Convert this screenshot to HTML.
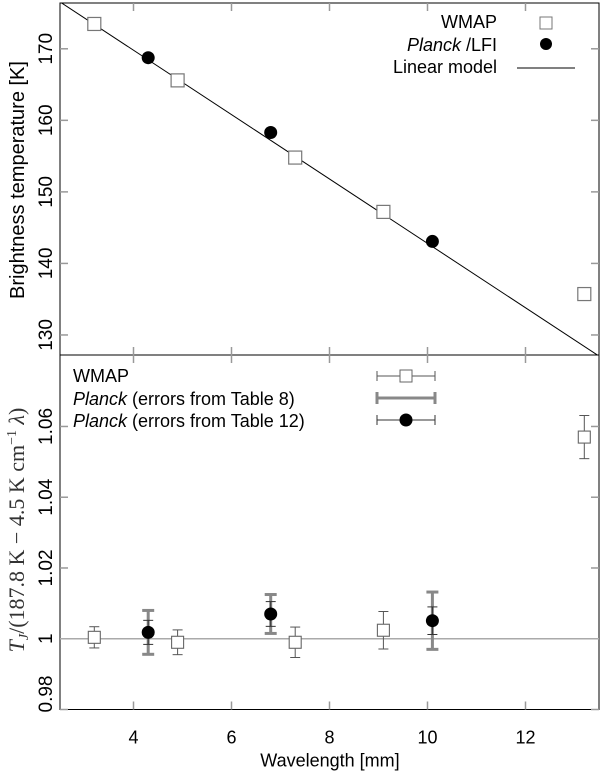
<!DOCTYPE html>
<html><head><meta charset="utf-8"><style>
html,body{margin:0;padding:0;background:#fff;}
svg{display:block;font-family:"Liberation Sans",sans-serif;}
</style></head><body>
<svg id="chart" width="600" height="775" viewBox="0 0 600 775"></svg>
<script>
const wmapLambda=[3.2,4.9,7.3,9.1,13.2];
const wmapRatio=[1.0004,0.999,0.999,1.0024,1.057];
const wmapErr=[0.003,0.0035,0.0043,0.0053,0.0061];
const planckLambda=[4.3,6.8,10.1];
const planckRatio=[1.0018,1.007,1.0051];
const planckErr8=[0.0062,0.0055,0.0081];
const planckErr12=[0.0034,0.0035,0.0039];
const xTicks=[4,6,8,10,12];
const topYTicks=[130,140,150,160,170];
const botYTicks=[0.98,1,1.02,1.04,1.06];
const botYLabels=["0.98","1","1.02","1.04","1.06"];
const modelA=187.8, modelB=4.5;

const NS="http://www.w3.org/2000/svg";
const svg=document.getElementById('chart');
const L=60,R=599,T1=3,B1=355,T2=355,B2=709.5;
const x=v=>L+(v-2.5)/(13.5-2.5)*(R-L);
const yT=v=>T1+(176.4-v)/(176.4-127.2)*(B1-T1);
const yB=v=>T2+(1.0802-v)/(1.0802-0.98)*(B2-T2);
const model=l=>modelA-modelB*l;
function mk(tag,attrs,name,parent){const e=document.createElementNS(NS,tag);for(const k in attrs)e.setAttribute(k,attrs[k]);


(parent||svg).appendChild(e);return e;}
function txt(s,attrs,name){const e=mk('text',attrs,name);e.textContent=s;return e;}

mk('rect',{x:L,y:T1,width:R-L,height:B1-T1,fill:'none',stroke:'#000','stroke-width':1},'top-panel-frame');
mk('rect',{x:L,y:T2,width:R-L,height:B2-T2,fill:'none',stroke:'#000','stroke-width':1},'bottom-panel-frame');
xTicks.forEach(t=>{
  [[T1,T1+8],[B1-8,B1],[T2,T2+8],[B2-8,B2]].forEach(p=>mk('line',{x1:x(t),x2:x(t),y1:p[0],y2:p[1],stroke:'#999','stroke-width':1.5},'x-tick'));
  txt(String(t),{x:x(t),y:B2+34,'font-size':18,'text-anchor':'middle'},'x-tick-label');
});
txt('Wavelength [mm]',{x:330,y:B2+57,'font-size':18,'text-anchor':'middle'},'x-axis-title');
topYTicks.forEach(t=>{
  mk('line',{x1:L,x2:L+8,y1:yT(t),y2:yT(t),stroke:'#999','stroke-width':1.5},'y-tick');
  mk('line',{x1:R-8,x2:R,y1:yT(t),y2:yT(t),stroke:'#999','stroke-width':1.5},'y-tick');
  txt(String(t),{x:0,y:0,'font-size':19,'text-anchor':'middle',transform:`translate(52,${yT(t)}) rotate(-90)`},'y-tick-label');
});
txt('Brightness temperature [K]',{x:0,y:0,'font-size':20,'text-anchor':'middle',transform:'translate(24,180) rotate(-90)'},'top-y-axis-title');
botYTicks.forEach((t,i)=>{
  mk('line',{x1:L,x2:L+8,y1:yB(t),y2:yB(t),stroke:'#999','stroke-width':1.5},'y-tick');
  mk('line',{x1:R-8,x2:R,y1:yB(t),y2:yB(t),stroke:'#999','stroke-width':1.5},'y-tick');
  txt(botYLabels[i],{x:0,y:0,'font-size':19,'text-anchor':'middle',transform:`translate(52,${Math.min(yB(t),694)}) rotate(-90)`},'y-tick-label');
});
const yt=txt('',{x:0,y:0,'font-size':22,'text-anchor':'middle','font-family':'Liberation Serif, serif',fill:'#333',transform:'translate(24,530) rotate(-90)'},'bottom-y-axis-title');
yt.innerHTML='<tspan font-style="italic">T</tspan><tspan font-size="14" font-style="italic" dy="4">J</tspan><tspan dy="-4">/(187.8 K − 4.5 K cm</tspan><tspan font-size="14" dy="-8">−1</tspan><tspan dy="8"> </tspan><tspan font-style="italic">λ</tspan><tspan>)</tspan>';

const clip=mk('clipPath',{id:'c1'},'clip');mk('rect',{x:L,y:T1,width:R-L,height:B1-T1},'clip-rect',clip);
mk('line',{x1:x(2.5),y1:yT(model(2.5)),x2:x(13.5),y2:yT(model(13.5)),stroke:'#000','stroke-width':1,'clip-path':'url(#c1)'},'linear-model-line');
wmapLambda.forEach((l,i)=>{const v=model(l)*wmapRatio[i];
  mk('rect',{x:x(l)-6.5,y:yT(v)-6.5,width:13,height:13,fill:'#fff',stroke:'#777','stroke-width':1.2},'wmap-point');});
planckLambda.forEach((l,i)=>{const v=model(l)*planckRatio[i];
  mk('circle',{cx:x(l),cy:yT(v),r:6.5,fill:'#000'},'planck-point');});
txt('WMAP',{x:497,y:28,'font-size':18,'text-anchor':'end'},'legend-wmap-label');
const pl=txt('',{x:497,y:51,'font-size':18,'text-anchor':'end'},'legend-planck-label');pl.innerHTML='<tspan font-style="italic">Planck</tspan> /LFI';
txt('Linear model',{x:497,y:73,'font-size':18,'text-anchor':'end'},'legend-model-label');
mk('rect',{x:540,y:17,width:12,height:12,fill:'#fff',stroke:'#777'},'legend-wmap-marker');
mk('circle',{cx:546,cy:44,r:6,fill:'#000'},'legend-planck-marker');
mk('line',{x1:517,x2:575,y1:68,y2:68,stroke:'#000'},'legend-model-marker');

mk('line',{x1:L,x2:R,y1:yB(1),y2:yB(1),stroke:'#aaa','stroke-width':1.5},'unity-line');
function bar(cx,v,e,color,w,cap,name){
  mk('line',{x1:cx,x2:cx,y1:yB(v-e),y2:yB(v+e),stroke:color,'stroke-width':w},name);
  [v-e,v+e].forEach(q=>mk('line',{x1:cx-cap,x2:cx+cap,y1:yB(q),y2:yB(q),stroke:color,'stroke-width':w},name+'-cap'));
}
wmapLambda.forEach((l,i)=>{
  bar(x(l),wmapRatio[i],wmapErr[i],'#555',1,5,'wmap-error-bar');
  mk('rect',{x:x(l)-6,y:yB(wmapRatio[i])-6,width:12,height:12,fill:'#fff',stroke:'#666','stroke-width':1.1},'wmap-ratio-point');
});
planckLambda.forEach((l,i)=>{
  bar(x(l),planckRatio[i],planckErr8[i],'#888',3,6,'planck-error-table8');
  bar(x(l),planckRatio[i],planckErr12[i],'#333',1,5,'planck-error-table12');
  mk('circle',{cx:x(l),cy:yB(planckRatio[i]),r:6.5,fill:'#000'},'planck-ratio-point');
});
txt('WMAP',{x:73,y:382,'font-size':18},'legend2-wmap-label');
const l2=txt('',{x:73,y:405,'font-size':18},'legend2-planck8-label');l2.innerHTML='<tspan font-style="italic">Planck</tspan>  (errors from Table 8)';
const l3=txt('',{x:73,y:427,'font-size':18},'legend2-planck12-label');l3.innerHTML='<tspan font-style="italic">Planck</tspan>  (errors from Table 12)';
mk('line',{x1:377,x2:435,y1:376,y2:376,stroke:'#555'},'legend2-wmap-bar');
mk('line',{x1:377,x2:377,y1:371,y2:381,stroke:'#555'},'legend2-wmap-cap');
mk('line',{x1:435,x2:435,y1:371,y2:381,stroke:'#555'},'legend2-wmap-cap');
mk('rect',{x:400,y:370,width:12,height:12,fill:'#fff',stroke:'#666'},'legend2-wmap-marker');
mk('line',{x1:377,x2:435,y1:398,y2:398,stroke:'#888','stroke-width':3},'legend2-planck8-bar');
mk('line',{x1:377,x2:377,y1:392,y2:404,stroke:'#888','stroke-width':3},'legend2-planck8-cap');
mk('line',{x1:435,x2:435,y1:392,y2:404,stroke:'#888','stroke-width':3},'legend2-planck8-cap');
mk('line',{x1:377,x2:435,y1:420,y2:420,stroke:'#333'},'legend2-planck12-bar');
mk('line',{x1:377,x2:377,y1:415,y2:425,stroke:'#333'},'legend2-planck12-cap');
mk('line',{x1:435,x2:435,y1:415,y2:425,stroke:'#333'},'legend2-planck12-cap');
mk('circle',{cx:406,cy:420,r:6.5,fill:'#000'},'legend2-planck12-marker');
</script>
</body></html>
